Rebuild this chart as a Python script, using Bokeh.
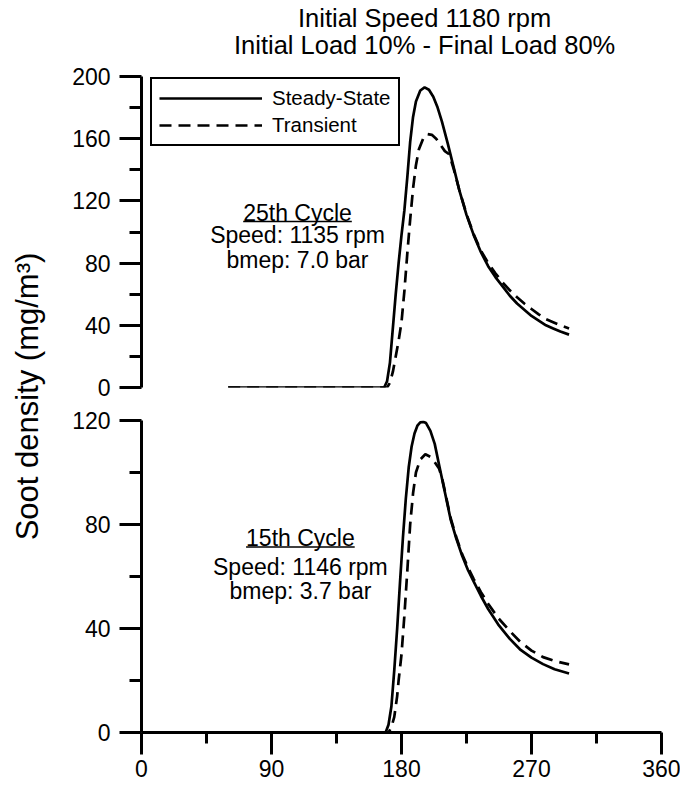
from bokeh.plotting import figure
from bokeh.layouts import row, column
from bokeh.models import FixedTicker, Legend, LegendItem, Label, Range1d
from bokeh.embed import file_html
from bokeh.resources import INLINE

FONT = "Liberation Sans"

# ---------------- data ----------------
title_lines = ["Initial Speed 1180 rpm", "Initial Load 10% - Final Load 80%"]
y_label = "Soot density (mg/m³)"
series_names = ["Steady-State", "Transient"]

x_ticks = [0, 90, 180, 270, 360]
x_minor = [45, 135, 225, 315]
top_ticks = [0, 40, 80, 120, 160, 200]
top_minor = [20, 60, 100, 140, 180]
bot_ticks = [0, 40, 80, 120]
bot_minor = [20, 60, 100]

top_notes = ["25th Cycle", "Speed: 1135 rpm", "bmep: 7.0 bar"]
bot_notes = ["15th Cycle", "Speed: 1146 rpm", "bmep: 3.7 bar"]

# 25th cycle (top panel)
top_ss_x = [60, 168, 170, 172, 174, 176, 178, 180, 182, 184, 186, 188, 190, 193, 196, 199, 202, 205, 208,
            212, 216, 220, 225, 230, 235, 240, 245, 250, 255, 260, 265, 270, 275, 280, 285, 290, 296]
top_ss_y = [0, 0, 4, 16, 38, 60, 80, 98, 114, 135, 158, 174, 184, 191, 193, 191.5, 187, 180, 171,
            157, 142, 127, 111, 98, 87, 78, 71, 65, 59, 54, 50, 46, 43, 40, 38, 36, 34]
top_tr_x = [60, 170, 172, 174, 176, 178, 180, 182, 184, 186, 188, 190, 192, 195, 198, 201, 204, 207, 210,
            213, 216, 220, 225, 230, 235, 240, 245, 250, 255, 260, 265, 270, 275, 280, 285, 290, 296]
top_tr_y = [0, 0, 3, 10, 20, 30, 42, 62, 86, 108, 128, 143, 153, 160, 163, 162.5, 160, 156, 152,
            150, 141, 127, 111.5, 98.5, 88, 80, 73.5, 67.5, 62.5, 58, 54, 50.5, 47, 44, 42, 40, 38]

# 15th cycle (bottom panel)
bot_ss_x = [60, 169, 171, 173, 175, 177, 179, 181, 183, 185, 187, 189, 191, 193, 195, 197, 200, 203, 206,
            210, 214, 218, 222, 226, 230, 235, 240, 247, 255, 262, 270, 278, 286, 296]
bot_ss_y = [0, 0, 3, 10, 24, 40, 58, 75, 90, 102, 110, 115, 118, 119.3, 119.5, 119, 116, 111, 103,
            92.5, 82, 74.5, 68, 62.5, 58, 52.5, 47.5, 41.5, 36, 32, 28.8, 26.3, 24.3, 22.7]
bot_tr_x = [60, 171, 173, 175, 177, 178, 180, 182, 184, 186, 188, 190, 193, 196.5, 200, 203, 206, 208,
            210, 214, 218, 222, 226, 230, 235, 240, 247, 255, 262, 270, 278, 286, 296]
bot_tr_y = [0, 0, 2, 6, 14, 20, 30, 45, 62, 80, 92, 100, 105, 107, 106, 104, 101.5, 98,
            93, 82.5, 75, 68.5, 63.5, 59, 54, 49.5, 44, 39, 35, 31.5, 29, 27.5, 26.2]

DASH = "12 7"
LW = 2.7
LEFT_B = 73
RIGHT_B = 19
FRAME_W = 520


def style_yaxis(p, ticks, minor):
    ax = p.yaxis[0]
    ax.ticker = FixedTicker(ticks=ticks, minor_ticks=minor)
    ax.axis_line_width = 3
    ax.axis_line_color = "black"
    ax.major_tick_line_width = 3
    ax.major_tick_line_color = "black"
    ax.major_tick_out = 22
    ax.major_tick_in = 0
    ax.minor_tick_line_width = 3
    ax.minor_tick_line_color = "black"
    ax.minor_tick_out = 12
    ax.minor_tick_in = 0
    ax.major_label_text_font = FONT
    ax.major_label_text_font_size = "23px"
    ax.major_label_text_color = "black"
    ax.major_label_standoff = 9


def make_fig(frame_h, top_b, bottom_b, y_end, show_x):
    p = figure(frame_width=FRAME_W, frame_height=frame_h,
               x_range=Range1d(0, 360), y_range=Range1d(0, y_end),
               output_backend="svg", toolbar_location=None,
               min_border_left=LEFT_B, min_border_right=RIGHT_B,
               min_border_top=top_b, min_border_bottom=bottom_b,
               x_axis_location="below" if show_x else None)
    p.outline_line_color = None
    p.grid.visible = False
    return p


def note(p, txt, x, y, size="23px"):
    p.add_layout(Label(x=x, y=y, text=txt, text_align="center", text_baseline="middle",
                       text_font=FONT, text_font_size=size, text_color="black"))


# ---------------- title strip ----------------
tfig = figure(frame_width=FRAME_W, frame_height=62, x_range=Range1d(0, 360), y_range=Range1d(62, 0),
              output_backend="svg", toolbar_location=None,
              min_border_left=LEFT_B, min_border_right=RIGHT_B, min_border_top=0, min_border_bottom=0,
              x_axis_location=None, y_axis_location=None)
tfig.outline_line_color = None
tfig.grid.visible = False
for txt, yy in zip(title_lines, [17, 44.5]):
    note(tfig, txt, 196, yy, size="25.5px")

# ---------------- top panel ----------------
top = make_fig(311, 14, 16, 200, False)
style_yaxis(top, top_ticks, top_minor)
r_ss = top.line(top_ss_x, top_ss_y, line_color="black", line_width=LW)
r_tr = top.line(top_tr_x, top_tr_y, line_color="black", line_width=LW, line_dash=DASH)

for txt, yy in zip(top_notes, [112.5, 98.1, 82.0]):
    note(top, txt, 108, yy)
top.segment(x0=[70.4], y0=[106.8], x1=[145.6], y1=[106.8], line_color="black", line_width=1.5)

legend = Legend(items=[LegendItem(label=series_names[0], renderers=[r_ss]),
                       LegendItem(label=series_names[1], renderers=[r_tr])],
                location=(9, 241), orientation="vertical",
                border_line_color="black", border_line_width=2, border_line_alpha=1.0,
                padding=7, spacing=3, margin=0,
                glyph_width=103, glyph_height=20, label_height=20, label_standoff=10,
                label_text_font=FONT, label_text_font_size="20.5px", label_text_color="black",
                background_fill_color="white", background_fill_alpha=1)
top.add_layout(legend)

# ---------------- bottom panel ----------------
bot = make_fig(312, 17, 56, 120, True)
style_yaxis(bot, bot_ticks, bot_minor)
xa = bot.xaxis[0]
xa.ticker = FixedTicker(ticks=x_ticks, minor_ticks=x_minor)
xa.axis_line_width = 3
xa.axis_line_color = "black"
xa.major_tick_line_width = 3
xa.major_tick_line_color = "black"
xa.major_tick_out = 22
xa.major_tick_in = 0
xa.minor_tick_line_width = 3
xa.minor_tick_line_color = "black"
xa.minor_tick_out = 11
xa.minor_tick_in = 0
xa.major_label_text_font = FONT
xa.major_label_text_font_size = "23px"
xa.major_label_text_color = "black"
xa.major_label_standoff = 5

bot.line(bot_ss_x, bot_ss_y, line_color="black", line_width=LW)
bot.line(bot_tr_x, bot_tr_y, line_color="black", line_width=LW, line_dash=DASH)

for txt, yy in zip(bot_notes, [74.8, 63.8, 54.6]):
    note(bot, txt, 110, yy)
bot.segment(x0=[72.4], y0=[71.3], x1=[147.6], y1=[71.3], line_color="black", line_width=1.5)

# ---------------- y-label strip ----------------
lab = figure(width=68, height=788, x_range=Range1d(0, 68), y_range=Range1d(788, 0),
             output_backend="svg", toolbar_location=None, min_border=0,
             x_axis_location=None, y_axis_location=None)
lab.outline_line_color = None
lab.grid.visible = False
lab.add_layout(Label(x=27, y=396, text=y_label, angle=90, angle_units="deg",
                     text_align="center", text_baseline="middle",
                     text_font=FONT, text_font_size="31px", text_color="black"))

p = row(lab, column(tfig, top, bot, spacing=0), spacing=0)

open("out.html", "w").write(file_html(p, INLINE))
